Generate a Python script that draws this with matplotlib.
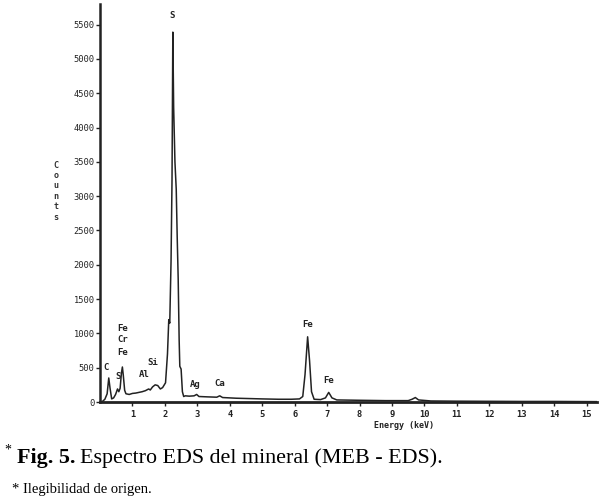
import matplotlib
matplotlib.use("Agg")
import matplotlib.pyplot as plt

# spectrum (energy in keV, counts)
energy_kev = [0.00, 0.08, 0.15, 0.22, 0.27, 0.31, 0.36, 0.42, 0.48, 0.54, 0.58,
              0.62, 0.66, 0.69, 0.72, 0.76, 0.80, 0.90, 1.00, 1.10, 1.20, 1.30,
              1.40, 1.50, 1.55, 1.62, 1.70, 1.78, 1.86, 1.93, 2.02, 2.08, 2.12,
              2.15, 2.19, 2.22, 2.245, 2.27, 2.31, 2.35, 2.38, 2.41, 2.44, 2.46,
              2.50, 2.54, 2.58, 2.63, 2.75, 2.90, 2.98, 3.05, 3.30, 3.60, 3.69,
              3.78, 4.20, 4.60, 5.00, 5.50, 5.90, 6.15, 6.25, 6.32, 6.40, 6.46,
              6.52, 6.60, 6.80, 6.95, 7.05, 7.15, 7.30, 8.00, 8.80, 9.50, 9.62,
              9.72, 9.82, 10.2, 11.0, 12.0, 13.0, 14.0, 15.3]
counts = [0, 10, 40, 120, 350, 200, 45, 60, 110, 190, 150,
          200, 420, 510, 380, 170, 120, 110, 125, 130, 140, 150,
          165, 190, 175, 220, 250, 240, 190, 210, 280, 700, 1200,
          1150, 2050, 3240, 5390, 4300, 3500, 3100, 2400, 1800, 900, 520,
          480, 150, 80, 90, 85, 90, 110, 80, 75, 70, 90,
          65, 55, 50, 45, 40, 40, 45, 80, 400, 950, 600,
          150, 40, 35, 60, 140, 60, 30, 25, 20, 20, 40,
          65, 30, 15, 12, 10, 8, 8, 5]

# peak labels: text, energy, counts
peak_labels = ["C", "S", "Fe", "Cr", "Fe", "Al", "Si", "S", "Ag", "Ca", "Fe", "Fe"]
peak_x = [0.20, 0.55, 0.69, 0.69, 0.69, 1.37, 1.62, 2.22, 2.95, 3.68, 6.40, 7.05]
peak_y = [430, 300, 1010, 840, 650, 330, 510, 5570, 190, 200, 1060, 255]

y_ticks = list(range(0, 6000, 500))
x_ticks = list(range(1, 16))

fig = plt.figure(figsize=(6.01, 5.01), dpi=100)
ax = fig.add_axes([100 / 601, 99 / 501, 497 / 601, 398 / 501])

ax.plot(energy_kev, counts, color="#222222", lw=1.1)

ax.set_xlim(0, 15.32)
ax.set_ylim(0, 5800)
ax.set_yticks(y_ticks)
ax.set_xticks(x_ticks)
mono = "DejaVu Sans Mono"
ax.set_yticklabels([str(v) for v in y_ticks], family=mono, fontsize=6.3, color="#222222")
ax.set_xticklabels([str(v) for v in x_ticks], family=mono, fontsize=6.3,
                   fontweight="bold", color="#222222")
ax.tick_params(axis="y", length=3, width=1, pad=1, color="#222222")
ax.tick_params(axis="x", length=3, width=1, pad=3, color="#222222")

for side in ["top", "right"]:
    ax.spines[side].set_visible(False)
ax.spines["left"].set_linewidth(1.8)
ax.spines["bottom"].set_linewidth(2.0)
ax.spines["left"].set_color("#222222")
ax.spines["bottom"].set_color("#222222")

for t, x, y in zip(peak_labels, peak_x, peak_y):
    ax.text(x, y, t, family=mono, fontsize=6.5, fontweight="bold",
            color="#222222", ha="center", va="bottom")

fig.text(56 / 601, 1 - 191 / 501, "C\no\nu\nn\nt\ns", family=mono, fontsize=6,
         fontweight="bold", color="#333333", ha="center", va="center",
         linespacing=1.2)
fig.text(404 / 601, 1 - 425 / 501, "Energy (keV)", family=mono, fontsize=6,
         fontweight="bold", color="#222222", ha="center", va="center")

# caption
serif = "Liberation Serif"
fig.text(4 / 601, 1 - 450 / 501, "*", family=serif, fontsize=10, va="center")
base = 1 - 463 / 501
t1 = fig.text(17 / 601, base, "Fig. 5.", family=serif, fontsize=15.8,
              fontweight="bold", va="baseline")
renderer = fig.canvas.get_renderer()
bb = t1.get_window_extent(renderer)
fig.text(bb.x1 / 601 + 4 / 601, base, "Espectro EDS del mineral (MEB - EDS).",
         family=serif, fontsize=15.8, va="baseline")
fig.text(12 / 601, 1 - 489 / 501, "* Ilegibilidad de origen.", family=serif,
         fontsize=10.5, va="center")

fig.savefig("out.png", dpi=100)
